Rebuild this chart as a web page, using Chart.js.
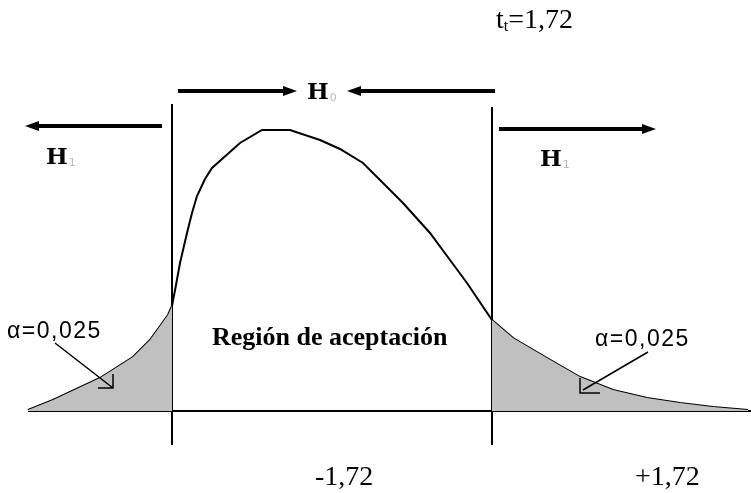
<!DOCTYPE html>
<html>
<head>
<meta charset="utf-8">
<script src="https://cdn.jsdelivr.net/npm/chart.js@4/dist/chart.umd.min.js"></script>
<style>
  html, body { margin: 0; padding: 0; background: #fff; }
  #chart-box { width: 751px; height: 493px; }
</style>
</head>
<body>
<div id="chart-box"><canvas id="t-chart" width="751" height="493"></canvas></div>
<script>
// curve (x along the axis, y = height above the baseline)
let curveX = [28, 53, 100, 133, 150, 168, 172, 176, 180, 187, 192, 197, 205, 212, 240, 262, 290, 320, 340, 363, 403, 430, 450, 467, 492, 513, 547, 580, 613, 647, 680, 713, 748];
let curveY = [1, 11, 33, 54, 71, 96, 105, 126, 148, 178, 198, 215, 232, 243, 268, 281, 281, 271, 262, 248, 208, 178, 151, 128, 91, 73, 53, 34, 21, 13, 8, 4, 1];
let critX = [172, 492];           // critical values
let critLabels = ["-1,72", "+1,72"];
let axisX = [28, 751];
let alphaLabel = "α=0,025";

const toPoints = (xs, ys) => xs.map((x, i) => ({ x: x, y: ys[i] }));
const allPoints = toPoints(curveX, curveY);
const leftTail = allPoints.filter((p) => p.x <= critX[0]);
const rightTail = allPoints.filter((p) => p.x >= critX[1]);

const annotations = {
    id: "annotations",
    afterDatasetsDraw(chart) {
        const ctx = chart.ctx;
        const sx = chart.scales.x;
        const sy = chart.scales.y;
        const px = (v) => sx.getPixelForValue(v);
        const py = (v) => sy.getPixelForValue(v);

        ctx.save();
        ctx.strokeStyle = "#000";
        ctx.fillStyle = "#000";

        // hypothesis arrows
        const arrow = (x1, x2, y) => {
            const dir = Math.sign(x2 - x1);
            ctx.lineWidth = 4;
            ctx.beginPath();
            ctx.moveTo(px(x1), py(y));
            ctx.lineTo(px(x2) - dir * 8, py(y));
            ctx.stroke();
            ctx.beginPath();
            ctx.moveTo(px(x2), py(y));
            ctx.lineTo(px(x2) - dir * 14, py(y) - 5);
            ctx.lineTo(px(x2) - dir * 14, py(y) + 5);
            ctx.closePath();
            ctx.fill();
        };
        arrow(178, 297, 320);
        arrow(495, 347, 320);
        arrow(162, 25, 285);
        arrow(499, 656, 282);

        const hLabel = (x, y, sub) => {
            ctx.font = "bold 23px 'DejaVu Serif'";
            ctx.textBaseline = "alphabetic";
            ctx.textAlign = "left";
            ctx.fillStyle = "#000";
            ctx.fillText("H", px(x), py(y));
            const w = ctx.measureText("H").width;
            ctx.font = "11px 'DejaVu Sans'";
            ctx.fillStyle = "#bbb";
            ctx.fillText(sub, px(x) + w + 1, py(y) + 2);
            ctx.fillStyle = "#000";
        };
        hLabel(307, 312, "0");
        hLabel(46, 247, "1");
        hLabel(540, 245, "1");

        // t_t = 1,72
        ctx.font = "28px 'Liberation Serif'";
        ctx.fillText("t", 496, 28);
        let w = ctx.measureText("t").width;
        ctx.font = "16px 'Liberation Serif'";
        ctx.fillText("t", 496 + w, 31);
        let w2 = ctx.measureText("t").width;
        ctx.font = "28px 'Liberation Serif'";
        ctx.fillText("=1,72", 496 + w + w2, 28);

        // critical value labels
        ctx.font = "28px 'Liberation Serif'";
        ctx.textBaseline = "middle";
        ctx.fillText(critLabels[0], 315, 478);
        ctx.fillText(critLabels[1], 635, 478);

        // acceptance region
        ctx.font = "bold 26px 'Liberation Serif'";
        ctx.fillText("Región de aceptación", 212, 338);

        // alpha labels with leaders
        ctx.font = "23px 'Liberation Sans'";
        ctx.letterSpacing = "1.5px";
        ctx.fillText(alphaLabel, 7, 332);
        ctx.fillText(alphaLabel, 595, 340);
        ctx.letterSpacing = "0px";

        ctx.lineWidth = 1.5;
        ctx.beginPath();
        ctx.moveTo(px(55), py(68));
        ctx.lineTo(px(113), py(23));
        ctx.moveTo(px(98), py(23));
        ctx.lineTo(px(113), py(23));
        ctx.lineTo(px(113), py(37));
        ctx.moveTo(px(648), py(59));
        ctx.lineTo(px(583), py(21));
        ctx.moveTo(px(580), py(33));
        ctx.lineTo(px(580), py(18));
        ctx.lineTo(px(600), py(18));
        ctx.stroke();
        ctx.restore();
    },
};

new Chart(document.getElementById("t-chart"), {
    type: "line",
    data: {
        datasets: [
            {
                data: leftTail,
                borderWidth: 0,
                backgroundColor: "#c0c0c0",
                fill: "origin",
                pointRadius: 0,
            },
            {
                data: rightTail,
                borderWidth: 0,
                backgroundColor: "#c0c0c0",
                fill: "origin",
                pointRadius: 0,
            },
            {
                data: allPoints,
                borderColor: "#000",
                borderWidth: 2,
                pointRadius: 0,
                fill: false,
            },
            {
                data: axisX.map((x) => ({ x: x, y: 0 })),
                borderColor: "#000",
                borderWidth: 2,
                pointRadius: 0,
            },
            {
                data: [{ x: critX[0], y: 307 }, { x: critX[0], y: -34 }],
                borderColor: "#000",
                borderWidth: 2,
                pointRadius: 0,
            },
            {
                data: [{ x: critX[1], y: 304 }, { x: critX[1], y: -34 }],
                borderColor: "#000",
                borderWidth: 2,
                pointRadius: 0,
            },
        ],
    },
    options: {
        responsive: false,
        animation: false,
        layout: { padding: 0 },
        plugins: { legend: { display: false }, tooltip: { enabled: false } },
        elements: { line: { tension: 0 } },
        scales: {
            x: { type: "linear", min: 0, max: 751, display: false },
            y: { type: "linear", min: -82, max: 411, display: false },
        },
    },
    plugins: [annotations],
});
</script>
</body>
</html>
